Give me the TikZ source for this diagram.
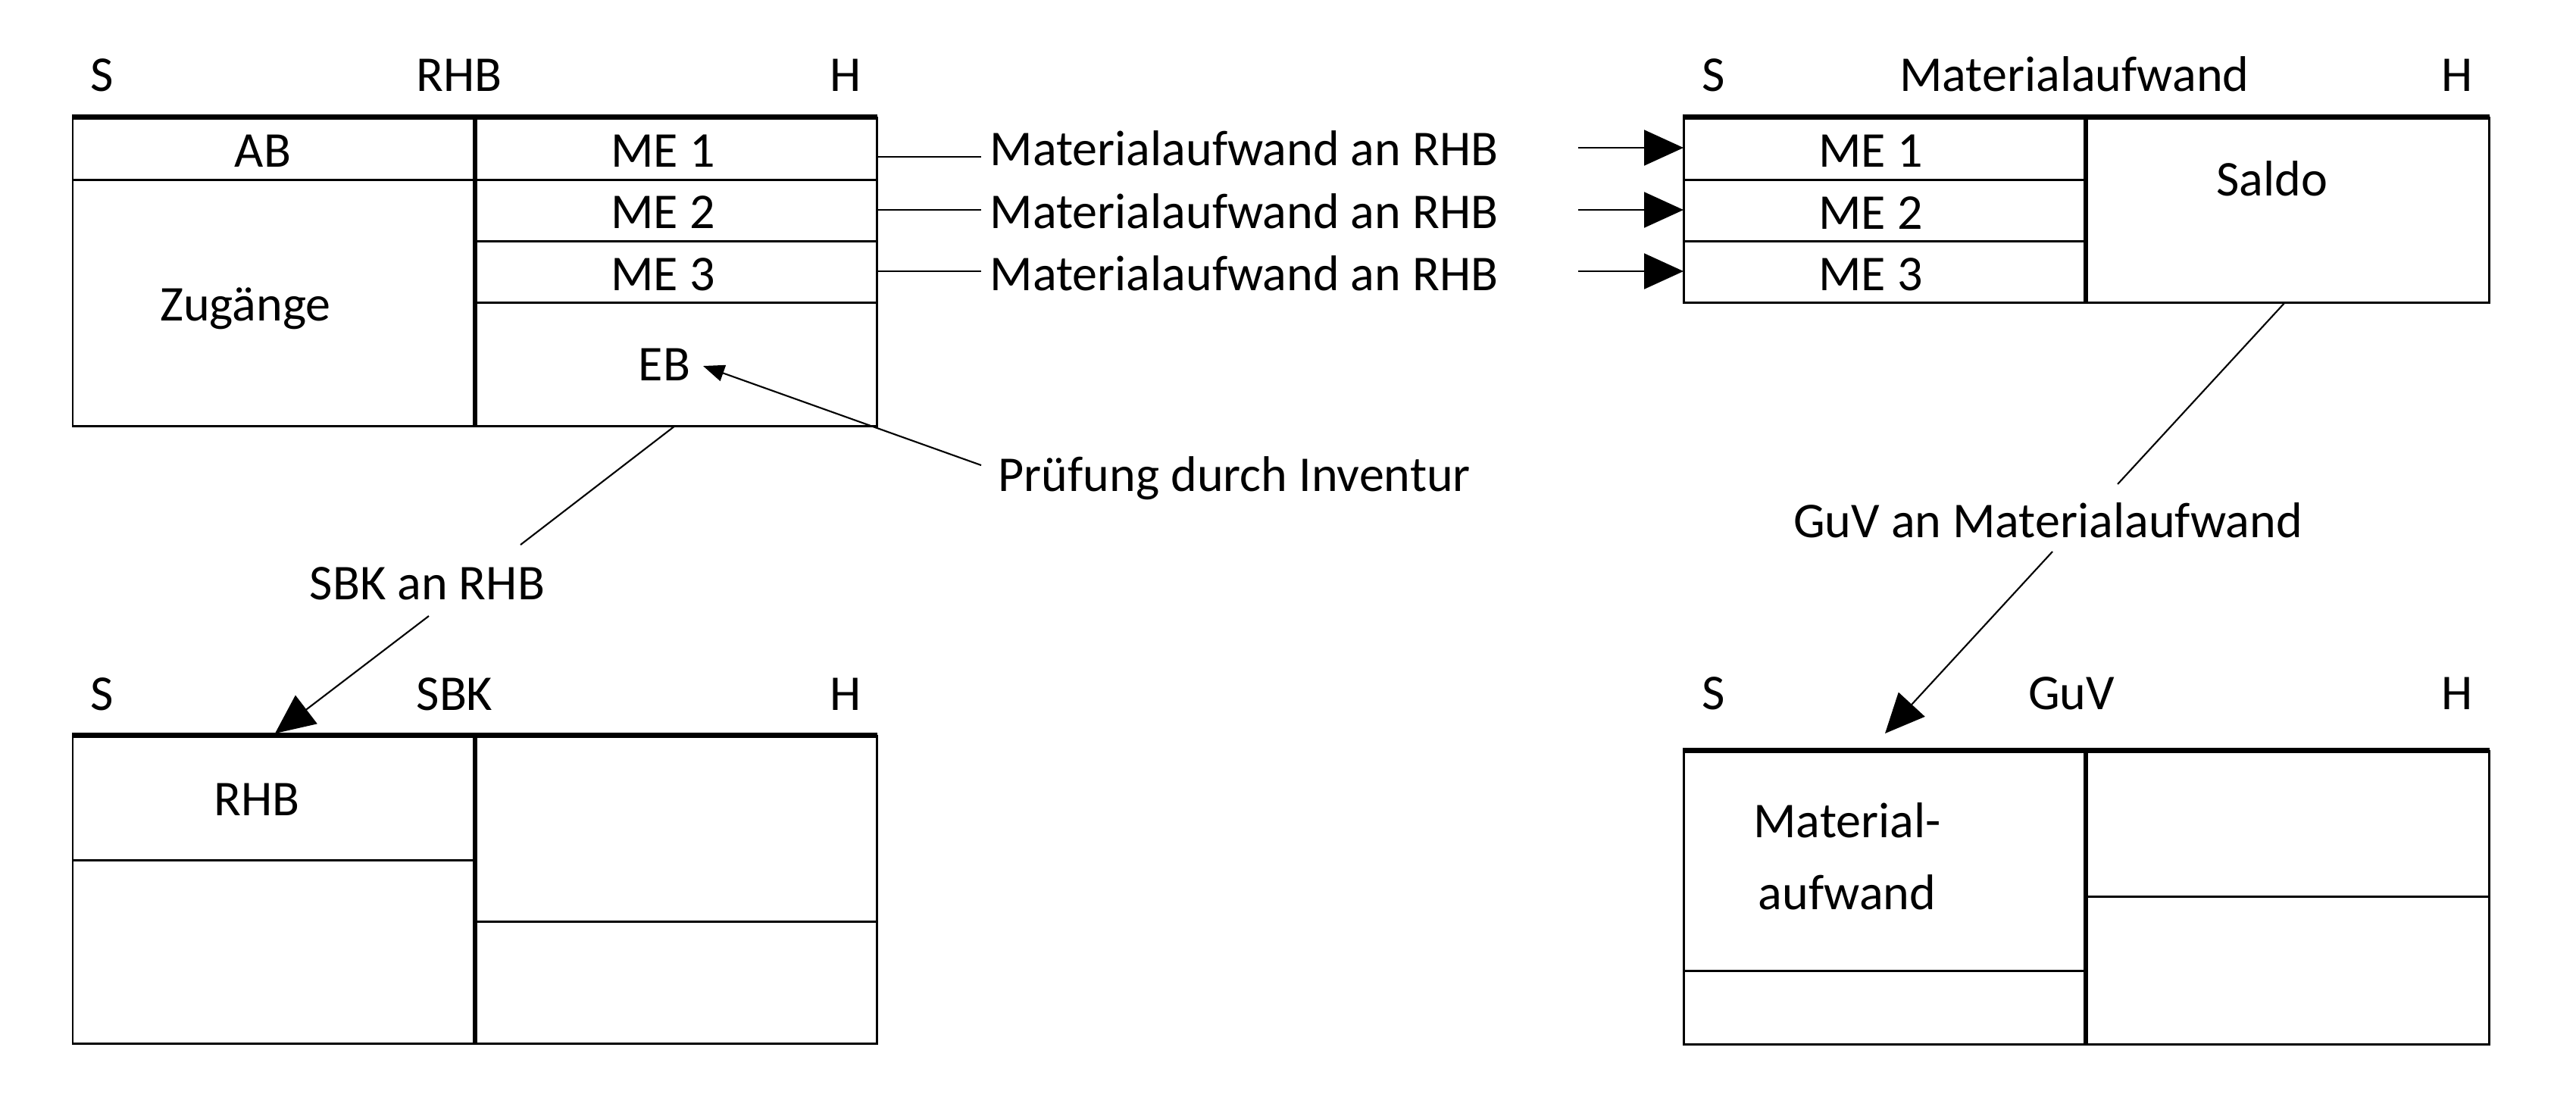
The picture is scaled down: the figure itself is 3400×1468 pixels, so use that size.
\documentclass[tikz,border=0pt]{standalone}
\usepackage{fontspec}
\setmainfont{Carlito}
\usetikzlibrary{arrows.meta}
\begin{document}
\begin{tikzpicture}[x=0.01cm,y=-0.01cm,
  txt/.style={inner sep=0pt, anchor=base, font=\fontsize{18.8}{22}\selectfont},
  lbl/.style={inner xsep=0.11cm, inner ysep=0pt, anchor=base west, font=\fontsize{18.8}{22}\selectfont},
  thinline/.style={line width=0.85pt},
  toprule/.style={line width=2pt},
  divider/.style={line width=1.8pt},
  conn/.style={line width=0.6pt},
  bigtip/.style={-{Triangle[length=0.52cm,width=0.47cm]}},
  smalltip/.style={-{Triangle[length=0.28cm,width=0.22cm]}},
]
\useasboundingbox (0,0) rectangle (3400,1468);

% ---------- RHB account ----------
\node[txt] (rhbS) at (135,120) {S};
\node[txt] (rhbT) at (606,120) {RHB};
\node[txt] (rhbH) at (1116,120) {H};
\draw[thinline] (96,154) -- (96,562) -- (1157,562) -- (1157,154);
\draw[thinline] (96,237) -- (1157,237);
\draw[thinline] (627,318) -- (1157,318);
\draw[thinline] (627,399) -- (1157,399);
\draw[toprule] (95,154) -- (1158,154);
\draw[divider] (627,154) -- (627,562);
\node[txt] (ab) at (347,220) {AB};
\node[txt] (zug) at (324,423) {Zugänge};
\node[txt] (me1) at (875,220) {ME 1};
\node[txt] (me2) at (875,301) {ME 2};
\node[txt] (me3) at (875,383) {ME 3};
\node[txt] (eb) at (877,502) {EB};
\coordinate (me1e) at (1157,207);
\coordinate (me2e) at (1157,277);
\coordinate (me3e) at (1157,358);

% ---------- booking labels ----------
\node[lbl] (ma1) at (1295,218) {Materialaufwand an RHB};
\node[lbl] (ma2) at (1295,301) {Materialaufwand an RHB};
\node[lbl] (ma3) at (1295,383) {Materialaufwand an RHB};
\draw[conn] (me1e) -- (me1e -| ma1.west);
\draw[conn] (me2e) -- (me2e -| ma2.west);
\draw[conn] (me3e) -- (me3e -| ma3.west);

\node[lbl] (pruef) at (1306,648) {Prüfung durch Inventur};
\coordinate (pruefS) at (1295,614);
\coordinate (ebTip) at (928,483);
\draw[conn,smalltip] (pruefS) -- (ebTip);

% ---------- Materialaufwand account ----------
\node[txt] (maS) at (2262,120) {S};
\node[txt] (maT) at (2738,120) {Materialaufwand};
\node[txt] (maH) at (3243,120) {H};
\draw[thinline] (2222,154) -- (2222,399) -- (3285,399) -- (3285,154);
\draw[thinline] (2222,237) -- (2753,237);
\draw[thinline] (2222,318) -- (2753,318);
\draw[toprule] (2221,154) -- (3286,154);
\draw[divider] (2753,154) -- (2753,399);
\node[txt] (rme1) at (2469,220) {ME 1};
\node[txt] (rme2) at (2469,302) {ME 2};
\node[txt] (rme3) at (2469,383) {ME 3};
\node[txt] (saldo) at (2999,258) {Saldo};
\coordinate (a1s) at (2083,195);
\coordinate (a2s) at (2083,277);
\coordinate (a3s) at (2083,358);
\coordinate (a1e) at (2222,195);
\coordinate (a2e) at (2222,277);
\coordinate (a3e) at (2222,358);
\draw[conn,bigtip] (a1s) -- (a1e);
\draw[conn,bigtip] (a2s) -- (a2e);
\draw[conn,bigtip] (a3s) -- (a3e);

% ---------- SBK account ----------
\node[txt] (sbkS) at (135,937) {S};
\node[txt] (sbkT) at (600,937) {SBK};
\node[txt] (sbkH) at (1116,937) {H};
\draw[thinline] (96,970) -- (96,1377) -- (1157,1377) -- (1157,970);
\draw[thinline] (96,1135) -- (627,1135);
\draw[thinline] (627,1216) -- (1157,1216);
\draw[toprule] (95,970) -- (1158,970);
\draw[divider] (627,970) -- (627,1377);
\node[txt] (sbkRHB) at (339,1076) {RHB};

\node[txt] (sbkLbl) at (564,791) {SBK an RHB};
\coordinate (ebB) at (891,562);
\coordinate (sbkL1) at (687,719);
\coordinate (sbkL2) at (566,813);
\coordinate (sbkTip) at (363,968);
\draw[conn] (ebB) -- (sbkL1);
\draw[conn,bigtip] (sbkL2) -- (sbkTip);

% ---------- GuV account ----------
\node[txt] (guvS) at (2262,936) {S};
\node[txt] (guvT) at (2734,936) {GuV};
\node[txt] (guvH) at (3243,936) {H};
\draw[thinline] (2222,990) -- (2222,1378) -- (3285,1378) -- (3285,990);
\draw[thinline] (2222,1281) -- (2753,1281);
\draw[thinline] (2753,1183) -- (3285,1183);
\draw[toprule] (2221,990) -- (3286,990);
\draw[divider] (2753,990) -- (2753,1378);
\node[txt] (guvMA1) at (2438,1105) {Material-};
\node[txt] (guvMA2) at (2438,1200) {aufwand};

\node[txt] (guvLbl) at (2703,709) {GuV an Materialaufwand};
\coordinate (saldoB) at (3016,399);
\coordinate (guvL1) at (2795,639);
\coordinate (guvL2) at (2709,728);
\coordinate (guvTip) at (2488,968);
\draw[conn] (saldoB) -- (guvL1);
\draw[conn,bigtip] (guvL2) -- (guvTip);
\end{tikzpicture}
\end{document}
